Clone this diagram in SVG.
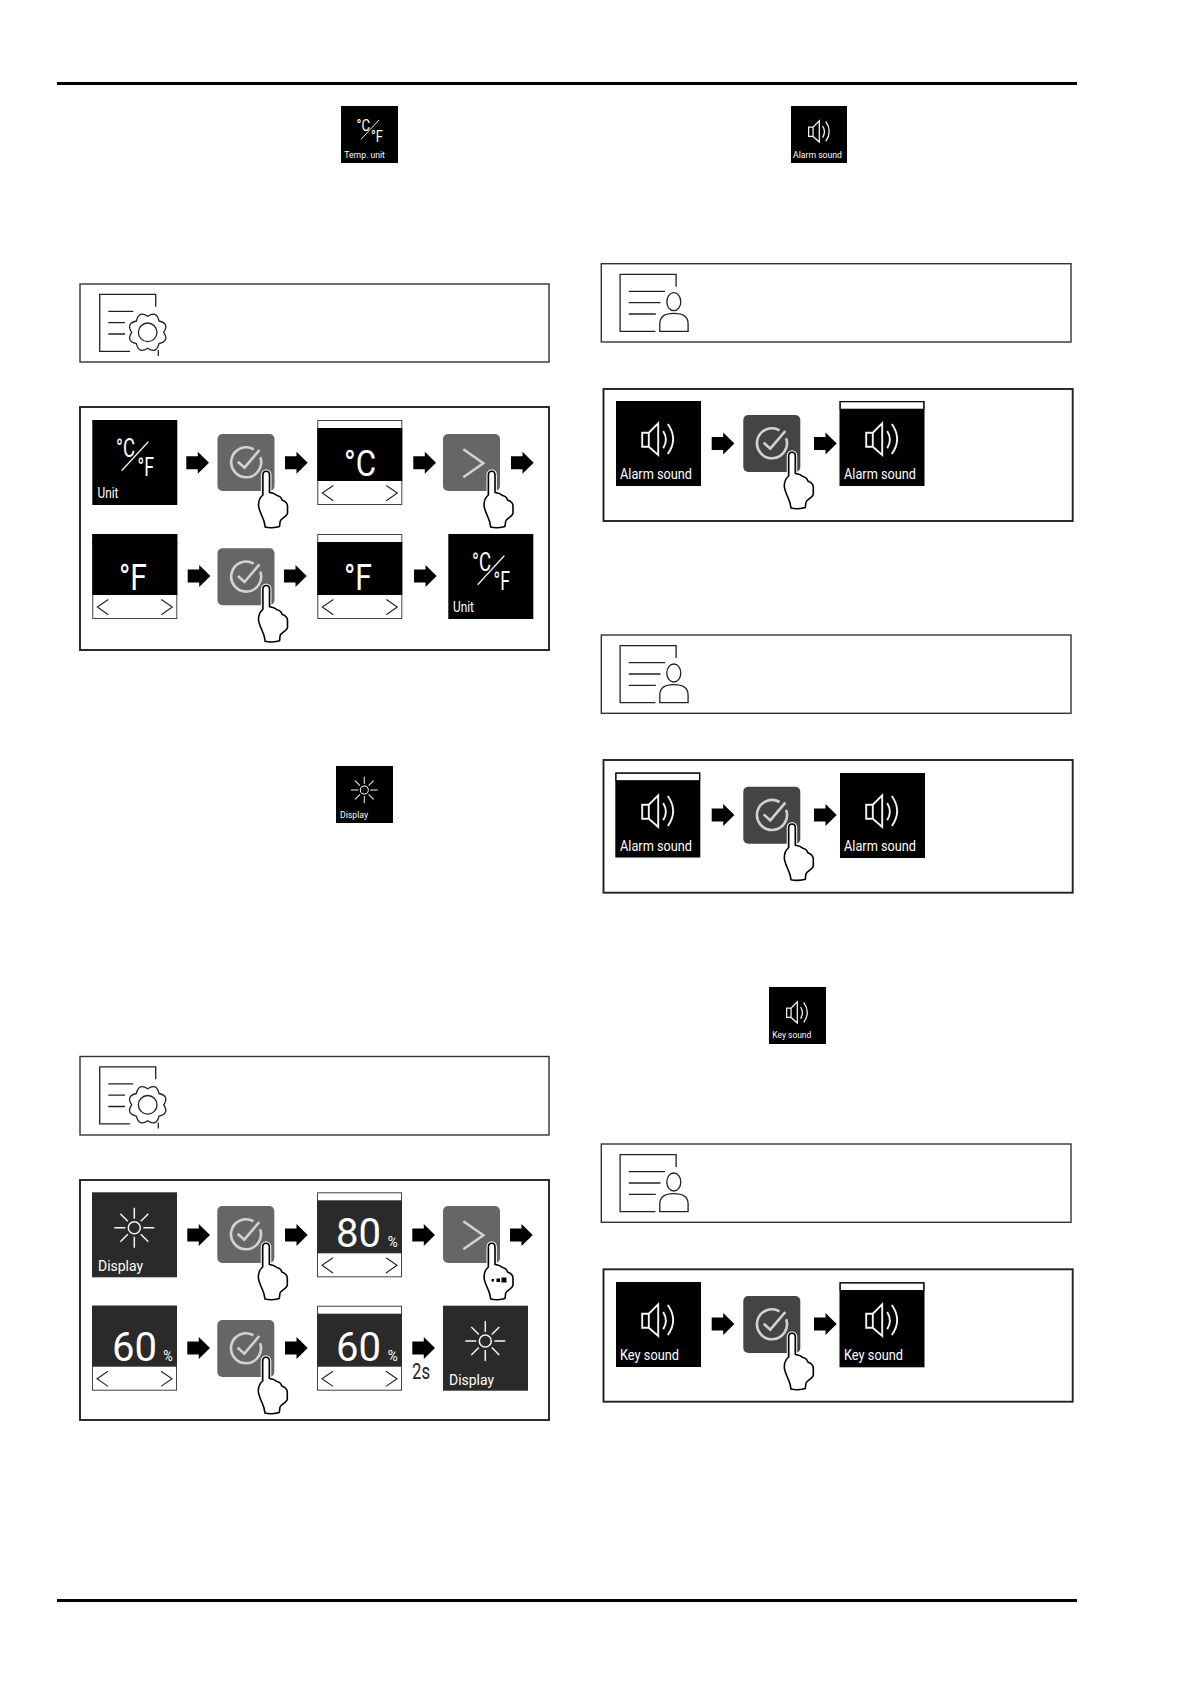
<svg xmlns="http://www.w3.org/2000/svg" xmlns:xlink="http://www.w3.org/1999/xlink" width="1191" height="1684" viewBox="0 0 1191 1684">
<style>
text{font-family:Roboto,"Liberation Sans",sans-serif;fill:#fff}
.rule{fill:#000}
.box{fill:#fff;stroke:#333;stroke-width:1.4}
.panel{fill:none;stroke:#222;stroke-width:1.9}
.ln{fill:none;stroke:#222;stroke-width:1.3}
.ico{fill:none;stroke:#f4f4f4;stroke-width:1.5}
.ico2{fill:none;stroke:#f4f4f4;stroke-width:1.9}
.k{fill:#000}
.d{fill:#2a2a2a}
.lbl{font-size:14px}
.hdr{font-size:9px}
.big{font-size:36px}
.num{font-size:40px}
.pc{font-size:14px}
.t2{font-size:22px;fill:#222}
</style>
<defs>
<path id="arrow" fill="#000" d="M0,-6.5H11.5V-11L22.7,0L11.500,11V6.5H0Z"/>
<g id="hand">
<path fill="none" stroke="#e8e8e8" stroke-width="4" d="M45.4,61V41C45.4,36 52,36 52,41V58"/>
<path fill="#fff" stroke="#000" stroke-width="1.600" stroke-linejoin="round" d="M45.4,61V41C45.4,36 52,36 52,41V58.5C55,59 58,60 59.5,61.5C62,62 64,64 64.5,66C67,67 70,69 70,72V79C70,82 63,85 62.7,87L62,92.5C58,94 51,94 47.7,93L46.7,88C45,82 41,76 41,71C41,67 43,63 45.4,61Z"/>
</g>
<g id="btn-check">
<rect width="57" height="57" rx="5" fill="currentColor"/>
<path fill="none" stroke="#d2d2d2" stroke-width="2.600" d="M36.2,15.3A15,15 0 1 0 42.8,23.2"/>
<path fill="none" stroke="#d2d2d2" stroke-width="2.600" d="M20.4,27.7L27,33.7L42,16"/>
<use href="#hand"/>
</g>
<g id="btn-next">
<rect width="57" height="57" rx="5" fill="currentColor"/>
<path fill="none" stroke="#d2d2d2" stroke-width="2.600" d="M20.3,15.3L40.3,29.3L20.3,43.3"/>
</g>
<g id="tile-edit">
<rect x=".5" y=".5" width="84" height="84" fill="#fff" stroke="#444"/>
<rect y="8" width="85" height="53" fill="currentColor"/>
<path fill="none" stroke="#222" stroke-width="1.100" d="M16,65.5L5,73L16,80.7M69,65.5L80,73L69,80.7"/>
</g>
<g id="tile-bar">
<rect width="85" height="85" fill="#000"/>
<rect x=".7" y=".7" width="83.6" height="7.6" fill="#fff" stroke="#000" stroke-width="1.2"/>
</g>
<g id="speaker" class="ico2">
<path d="M25.7,31.7H32.3L41.7,22.3V54L32.3,45.7H25.7ZM32.3,31.7V45.7"/>
<path d="M46.7,30Q52,38.5 46.7,47.3"/>
<path d="M51.3,23Q62,38 51.3,53"/>
</g>
<g id="sun" class="ico">
<circle r="6"/>
<path d="M-20,0H-9M9,0H20M0,-20V-9M0,9V20M-14,-14L-6.500,-6.500M6.500,6.500L14,14M14,-14L6.500,-6.500M-6.500,6.500L-14,14"/>
</g>
<g id="doc-user" class="ln">
<path d="M74.300,23V10.700H18.300V67.700H53.700"/>
<path d="M27,27.700H63.300M27,39H58.700M27,50.300H54"/>
<ellipse cx="72" cy="38" rx="7" ry="9"/>
<path d="M58,67.700V60Q58,49.700 72,49.700Q86.300,49.700 86.300,60V67.700Z"/>
</g>
<g id="doc-gear" class="ln">
<path d="M75.700,22.700V10.300H19.700V67.300H50"/>
<path d="M28.300,27.300H53.300M28.300,38.700H45M28.300,50H45M78.300,66V72"/>
<path fill="#fff" transform="translate(67.700,48.300)" d="M16,0Q22,8.800 11.300,11.300Q8.800,22 0,16Q-8.800,22 -11.300,11.300Q-22,8.800 -16,0Q-22,-8.800 -11.300,-11.300Q-8.800,-22 0,-16Q8.800,-22 11.300,-11.300Q22,-8.800 16,0Z"/>
<circle cx="67.700" cy="48.300" r="9.300"/>
</g>
</defs>

<rect class="rule" x="57" y="82" width="1020" height="3"/>
<rect class="rule" x="57" y="1599" width="1020" height="3"/>

<g id="hdr-temp-unit">
<rect class="k" x="341" y="106" width="57" height="57"/>
<path stroke="#eee" d="M379,120L361,139.300"/>
<text x="356.500" y="131" font-size="17" textLength="13.500" lengthAdjust="spacingAndGlyphs">°C</text>
<text x="371" y="142" font-size="17" textLength="12" lengthAdjust="spacingAndGlyphs">°F</text>
<text class="hdr" x="344.300" y="158.300" textLength="40.500" lengthAdjust="spacingAndGlyphs">Temp. unit</text>
</g>
<g id="hdr-alarm-sound">
<rect class="k" x="791" y="106" width="56" height="57"/>
<use href="#speaker" transform="translate(791.500,106) scale(.667)"/>
<text class="hdr" x="793" y="158.300" textLength="49" lengthAdjust="spacingAndGlyphs">Alarm sound</text>
</g>
<g id="hdr-display">
<rect class="k" x="336" y="766" width="57" height="57"/>
<use href="#sun" transform="translate(364.300,790) scale(.667)"/>
<text class="hdr" x="340" y="818.300" textLength="28" lengthAdjust="spacingAndGlyphs">Display</text>
</g>
<g id="hdr-key-sound">
<rect class="k" x="769" y="987" width="57" height="57"/>
<use href="#speaker" transform="translate(769.500,987) scale(.667)"/>
<text class="hdr" x="772.300" y="1038.300" textLength="39" lengthAdjust="spacingAndGlyphs">Key sound</text>
</g>

<g id="info-unit"><rect class="box" x="80" y="284" width="469" height="78"/><use href="#doc-gear" transform="translate(80,284)"/></g>
<g id="info-display"><rect class="box" x="80" y="1056.500" width="469" height="78.500"/><use href="#doc-gear" transform="translate(80,1056.500)"/></g>
<g id="info-alarm-1"><rect class="box" x="601.300" y="263.700" width="469.700" height="78.300"/><use href="#doc-user" transform="translate(601.800,263.700)"/></g>
<g id="info-alarm-2"><rect class="box" x="601.300" y="635" width="469.700" height="78.300"/><use href="#doc-user" transform="translate(601.800,635)"/></g>
<g id="info-key"><rect class="box" x="601.300" y="1144" width="469.700" height="78.300"/><use href="#doc-user" transform="translate(601.800,1144)"/></g>

<g id="panel-unit"><rect class="panel" x="80" y="407" width="469" height="243"/></g>
<g id="panel-display"><rect class="panel" x="80" y="1180" width="469" height="240"/></g>
<g id="panel-alarm-1"><rect class="panel" x="603.500" y="389" width="469.200" height="132" stroke-width="2"/></g>
<g id="panel-alarm-2"><rect class="panel" x="603.500" y="760" width="469.200" height="132.700"/></g>
<g id="panel-key"><rect class="panel" x="603.500" y="1269.300" width="469.200" height="132.400"/></g>

<g id="connectors">
<use href="#arrow" x="186.300" y="462.700"/><use href="#arrow" x="285" y="462.700"/><use href="#arrow" x="413.300" y="462.700"/><use href="#arrow" x="511" y="462.700"/>
<use href="#arrow" x="187.700" y="576"/><use href="#arrow" x="284" y="576"/><use href="#arrow" x="414" y="576"/>
<use href="#arrow" x="187.300" y="1235"/><use href="#arrow" x="285" y="1235"/><use href="#arrow" x="412.300" y="1235"/><use href="#arrow" x="510" y="1235"/>
<use href="#arrow" x="187.300" y="1348"/><use href="#arrow" x="285" y="1348"/><use href="#arrow" x="412.300" y="1348"/>
<use href="#arrow" x="711.700" y="443.500"/><use href="#arrow" x="814" y="443.500"/>
<use href="#arrow" x="711.700" y="815"/><use href="#arrow" x="814" y="815"/>
<use href="#arrow" x="711.700" y="1324"/><use href="#arrow" x="814" y="1324"/>
</g>

<!-- Unit panel -->
<g id="u1"><rect class="k" x="92.300" y="420" width="85" height="85"/><path stroke="#eee" stroke-width="1.300" d="M148.300,441.700L121.600,470.700"/>
<text x="116" y="457" font-size="26" textLength="19" lengthAdjust="spacingAndGlyphs">°C</text><text x="137.500" y="475.500" font-size="26" textLength="16.500" lengthAdjust="spacingAndGlyphs">°F</text>
<text class="lbl" x="97.500" y="498" textLength="21" lengthAdjust="spacingAndGlyphs">Unit</text></g>
<g id="u2" color="#666"><use href="#btn-check" x="217.500" y="434"/></g>
<g id="u3" color="#000"><use href="#tile-edit" x="317.300" y="420"/><text class="big" x="344" y="475.500" textLength="32" lengthAdjust="spacingAndGlyphs">°C</text></g>
<g id="u4" color="#666"><use href="#btn-next" x="443" y="434"/><use href="#hand" x="443" y="434"/></g>
<g id="u5" color="#000"><use href="#tile-edit" x="92.300" y="534"/><rect class="k" x="92.300" y="534" width="85" height="10"/><text class="big" x="119" y="589.500" textLength="28" lengthAdjust="spacingAndGlyphs">°F</text></g>
<g id="u6" color="#666"><use href="#btn-check" x="217.500" y="548.300"/></g>
<g id="u7" color="#000"><use href="#tile-edit" x="317.300" y="534"/><text class="big" x="344" y="589.500" textLength="28" lengthAdjust="spacingAndGlyphs">°F</text></g>
<g id="u8"><rect class="k" x="448.300" y="534" width="85" height="85"/><path stroke="#eee" stroke-width="1.300" d="M504.300,555.700L477.600,584.700"/>
<text x="472" y="571" font-size="26" textLength="19" lengthAdjust="spacingAndGlyphs">°C</text><text x="493.500" y="589.500" font-size="26" textLength="16.500" lengthAdjust="spacingAndGlyphs">°F</text>
<text class="lbl" x="453" y="612" textLength="21" lengthAdjust="spacingAndGlyphs">Unit</text></g>

<!-- Display panel -->
<g id="d1"><rect class="d" x="92" y="1192.300" width="85" height="85"/><use href="#sun" transform="translate(134.300,1227.700)"/>
<text x="98" y="1271" font-size="15" textLength="45" lengthAdjust="spacingAndGlyphs">Display</text></g>
<g id="d2" color="#666"><use href="#btn-check" x="217.300" y="1206"/></g>
<g id="d3" color="#2a2a2a"><use href="#tile-edit" x="317" y="1192.300"/><text class="num" x="336" y="1247.300" textLength="45" lengthAdjust="spacingAndGlyphs">80</text><text class="pc" x="387.700" y="1247.300" textLength="10" lengthAdjust="spacingAndGlyphs">%</text></g>
<g id="d4" color="#666"><use href="#btn-next" x="443" y="1206"/><use href="#hand" x="443" y="1206"/><rect class="k" x="491.500" y="1279" width="2.500" height="2.500"/><rect class="k" x="496.500" y="1278.500" width="3.500" height="3.500"/><rect class="k" x="501.500" y="1277.500" width="5" height="5"/></g>
<g id="d5" color="#2a2a2a"><use href="#tile-edit" x="92" y="1305.700"/><rect class="d" x="92" y="1305.700" width="85" height="10"/><text class="num" x="112" y="1361" textLength="45" lengthAdjust="spacingAndGlyphs">60</text><text class="pc" x="163.300" y="1361" textLength="9.500" lengthAdjust="spacingAndGlyphs">%</text></g>
<g id="d6" color="#666"><use href="#btn-check" x="217.300" y="1320"/></g>
<g id="d7" color="#2a2a2a"><use href="#tile-edit" x="317" y="1305.700"/><text class="num" x="336" y="1361" textLength="45" lengthAdjust="spacingAndGlyphs">60</text><text class="pc" x="387.700" y="1361" textLength="10" lengthAdjust="spacingAndGlyphs">%</text></g>
<g id="d8"><rect class="d" x="443" y="1305.700" width="85" height="85"/><use href="#sun" transform="translate(485.300,1341)"/>
<text x="449" y="1385" font-size="15" textLength="45" lengthAdjust="spacingAndGlyphs">Display</text></g>
<text class="t2" x="412" y="1378.500" textLength="18" lengthAdjust="spacingAndGlyphs">2s</text>

<!-- Alarm 1 -->
<g id="a1"><rect class="k" x="616" y="401" width="85" height="85"/><use href="#speaker" x="616.500" y="401"/><text class="lbl" x="620" y="479" textLength="72" lengthAdjust="spacingAndGlyphs">Alarm sound</text></g>
<g id="a2" color="#444"><use href="#btn-check" x="743.300" y="415"/></g>
<g id="a3"><use href="#tile-bar" x="839.500" y="401"/><use href="#speaker" x="840.500" y="401"/><text class="lbl" x="844" y="479" textLength="72" lengthAdjust="spacingAndGlyphs">Alarm sound</text></g>

<!-- Alarm 2 -->
<g id="b1"><use href="#tile-bar" x="615.300" y="772.500"/><use href="#speaker" x="616.500" y="773"/><text class="lbl" x="620" y="851" textLength="72" lengthAdjust="spacingAndGlyphs">Alarm sound</text></g>
<g id="b2" color="#444"><use href="#btn-check" x="743.300" y="786.700"/></g>
<g id="b3"><rect class="k" x="840" y="773" width="85" height="85"/><use href="#speaker" x="840.500" y="773"/><text class="lbl" x="844" y="851" textLength="72" lengthAdjust="spacingAndGlyphs">Alarm sound</text></g>

<!-- Key sound -->
<g id="k1"><rect class="k" x="616" y="1282" width="85" height="85"/><use href="#speaker" x="616.500" y="1282"/><text class="lbl" x="620" y="1360" textLength="59" lengthAdjust="spacingAndGlyphs">Key sound</text></g>
<g id="k2" color="#444"><use href="#btn-check" x="743.300" y="1296"/></g>
<g id="k3"><use href="#tile-bar" x="839.500" y="1282.300"/><use href="#speaker" x="840.500" y="1282"/><text class="lbl" x="844" y="1360" textLength="59" lengthAdjust="spacingAndGlyphs">Key sound</text></g>
</svg>
